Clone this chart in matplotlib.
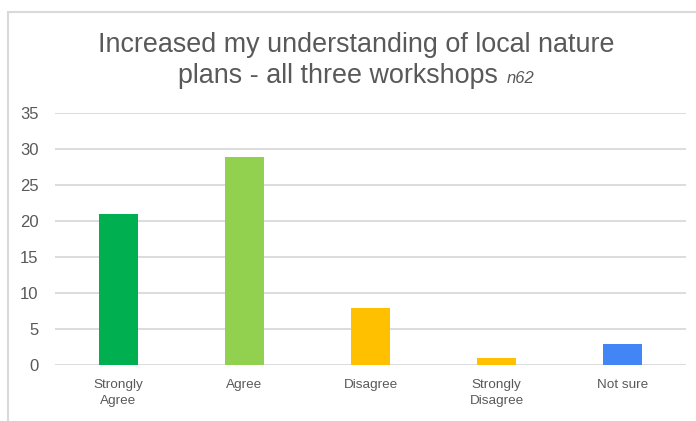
from matplotlib import pyplot as plt
import matplotlib.patches as patches

plt.rcParams['font.family'] = ['Liberation Sans', 'DejaVu Sans']

categorias = ['Strongly\nAgree', 'Agree', 'Disagree', 'Strongly\nDisagree', 'Not sure']
valores    = [21, 29, 8, 1, 3]
colores    = ['#00B050', '#92D050', '#FFC000', '#FFC000', '#4285F4']
y_ticks    = [0, 5, 10, 15, 20, 25, 30, 35]

gris_texto = '#595959'
gris_linea = '#D9D9D9'

fig = plt.figure(figsize=(6.96, 4.21), dpi=100)

# marco del grafico (solo se ven el borde izquierdo y el superior)
marco = patches.Rectangle((8/696, -0.1), 1.2, (421-12)/421 + 0.1,
                          transform=fig.transFigure, fill=False,
                          edgecolor=gris_linea, linewidth=1.5)
fig.patches.append(marco)

ax = fig.add_axes([55/696, (421-365.3)/421, (686-55)/696, (365.3-113.3)/421])

x = range(len(categorias))
ax.bar(x, valores, width=0.31, color=colores, zorder=3)

ax.set_ylim(0, 35)
ax.set_xlim(-0.5, len(categorias) - 0.5)
ax.set_yticks(y_ticks)
ax.set_xticks(list(x))
ax.set_xticklabels(categorias, fontsize=9.7, color=gris_texto, linespacing=1.4)
ax.tick_params(axis='y', labelsize=12, colors=gris_texto, length=0, pad=12)
ax.tick_params(axis='x', length=0, pad=10)
for lbl in ax.get_yticklabels():
    lbl.set_color(gris_texto)

ax.grid(axis='y', color=gris_linea, linewidth=1.3, zorder=0)
for s in ax.spines.values():
    s.set_visible(False)

# titulo en dos lineas
fig.text(356/696, 1 - 51.7/421, 'Increased my understanding of local nature',
         ha='center', va='baseline', fontsize=19.4, color=gris_texto)
fig.text(178/696, 1 - 83/421, 'plans - all three workshops',
         ha='left', va='baseline', fontsize=19.4, color=gris_texto)
fig.text(507/696, 1 - 83/421, 'n62', ha='left', va='baseline',
         fontsize=12, style='italic', color=gris_texto)

plt.savefig('out.png', dpi=100)
